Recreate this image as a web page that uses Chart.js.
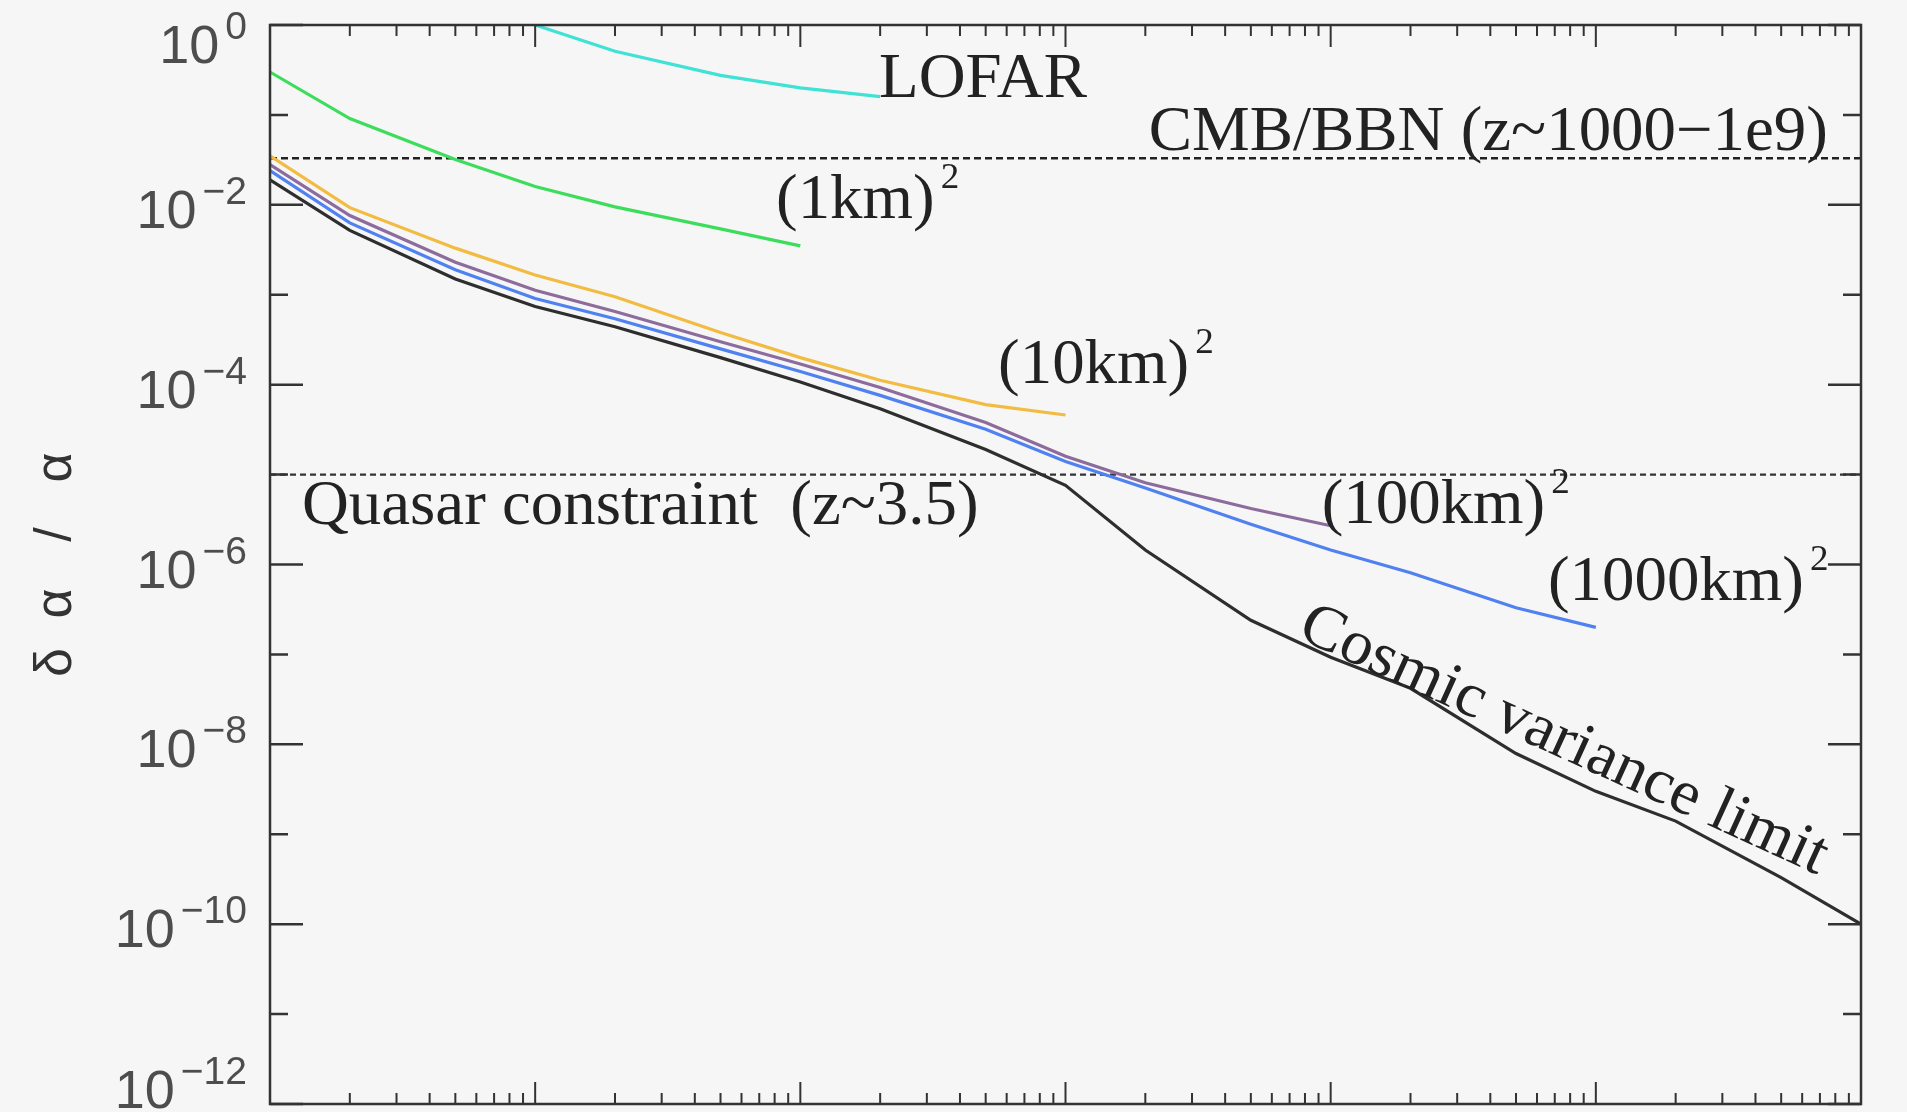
<!DOCTYPE html>
<html>
<head>
<meta charset="utf-8">
<title>δα/α sensitivity</title>
<script src="https://cdn.jsdelivr.net/npm/chart.js@4"></script>
<style>
  html, body { margin: 0; padding: 0; background: #f7f6f6; }
  #wrap { width: 1907px; height: 1112px; }
</style>
</head>
<body>
<div id="wrap"><canvas id="c" width="1907" height="1112"></canvas></div>
<script>
// Multipole grid shared by every curve
const ell = [1, 2, 5, 10, 20, 50, 100, 200, 500, 1e3, 2e3, 5e3, 1e4, 2e4, 5e4, 1e5, 2e5, 5e5, 1e6];

// Sensitivity on δα/α for each collecting area (curves stop where the array runs out)
const cosmicVariance = [1.9e-2, 5.2e-3, 1.5e-3, 7.4e-4, 4.4e-4, 2.0e-4, 1.07e-4, 5.4e-5, 1.9e-5, 7.6e-6,
                        1.45e-6, 2.4e-7, 9.3e-8, 4.2e-8, 7.9e-9, 3.0e-9, 1.4e-9, 3.3e-10, 1.0e-10];
const area1000km = [2.4e-2, 6.3e-3, 1.9e-3, 9.1e-4, 5.4e-4, 2.5e-4, 1.4e-4, 7.6e-5, 3.2e-5, 1.4e-5,
                    7.1e-6, 2.8e-6, 1.45e-6, 8.1e-7, 3.3e-7, 2.0e-7];
const area100km = [2.8e-2, 7.6e-3, 2.3e-3, 1.12e-3, 6.5e-4, 3.0e-4, 1.7e-4, 9.3e-5, 3.8e-5, 1.6e-5,
                   8.1e-6, 4.2e-6, 2.7e-6];
const area10km = [3.5e-2, 9.3e-3, 3.3e-3, 1.66e-3, 9.5e-4, 3.8e-4, 2.0e-4, 1.12e-4, 6.0e-5, 4.6e-5];
const area1km = [0.30, 0.091, 0.032, 0.016, 9.5e-3, 5.4e-3, 3.5e-3];
const lofar = [null, null, null, 1.0, 0.51, 0.275, 0.20, 0.16];

// Existing constraints
const cmbBbnLimit = 0.033;
const quasarLimit = 1e-5;

// Axis ranges
const ellRange = [1, 1e6];
const alphaRange = [1e-12, 1];
const alphaLabelExponents = [0, -2, -4, -6, -8, -10, -12];

function toPoints(values) {
  return values.map((v, i) => v == null ? null : { x: ell[i], y: v }).filter(Boolean);
}
function flatLine(v) {
  return [{ x: ellRange[0], y: v }, { x: ellRange[1], y: v }];
}

const SERIF = '"Liberation Serif", "Times New Roman", serif';
const SANS = '"Liberation Sans", Arial, sans-serif';

// Curve labels, placed in data coordinates (left end of the baseline)
const curveLabels = [
  { text: 'LOFAR', x: 198, y: 0.158 },
  { text: '(1km)', sup: '2', x: 81, y: 7.1e-3 },
  { text: '(10km)', sup: '2', x: 557, y: 1.05e-4 },
  { text: '(100km)', sup: '2', x: 9250, y: 2.9e-6 },
  { text: '(1000km)', sup: '2', x: 6.6e4, y: 4.0e-7 },
  { text: 'Quasar constraint  (z~3.5)', x: 1.32, y: 2.8e-6 },
  { text: 'CMB/BBN (z~1000\u22121e9)', x: 7.5e5, y: 0.0407, align: 'right' },
  { text: 'Cosmic variance limit', x: 7400, y: 1.55e-7, angle: 24.5 }
];

const decor = {
  id: 'decor',
  beforeDraw(chart) {
    const ctx = chart.ctx;
    ctx.save();
    ctx.fillStyle = '#f7f6f6';
    ctx.fillRect(0, 0, chart.width, chart.height);
    ctx.restore();
  },
  afterDatasetsDraw(chart) {
    const ctx = chart.ctx;
    const xs = chart.scales.x, ys = chart.scales.y;
    const { left, right, top, bottom } = chart.chartArea;
    ctx.save();

    // frame
    ctx.strokeStyle = '#333';
    ctx.lineWidth = 2.5;
    ctx.strokeRect(left, top, right - left, bottom - top);

    // y ticks on both sides, pointing inward
    ctx.lineWidth = 2.5;
    for (let e = 0; e >= -12; e--) {
      const y = ys.getPixelForValue(Math.pow(10, e));
      const len = (e % 2 === 0) ? 33 : 18;
      ctx.beginPath();
      ctx.moveTo(left, y); ctx.lineTo(left + len, y);
      ctx.moveTo(right, y); ctx.lineTo(right - len, y);
      ctx.stroke();
    }
    // x ticks on top and bottom, pointing inward
    ctx.lineWidth = 2;
    for (let k = 0; k <= 6; k++) {
      for (let m = 1; m <= 9; m++) {
        const v = m * Math.pow(10, k);
        if (v > ellRange[1]) break;
        const x = xs.getPixelForValue(v);
        const len = m === 1 ? 22 : 11;
        ctx.beginPath();
        ctx.moveTo(x, top); ctx.lineTo(x, top + len);
        ctx.moveTo(x, bottom); ctx.lineTo(x, bottom - len);
        ctx.stroke();
      }
    }

    // y tick labels: 10 with a superscript exponent
    ctx.fillStyle = '#4d4d4d';
    ctx.textBaseline = 'alphabetic';
    const labelRight = left - 23;
    alphaLabelExponents.forEach(e => {
      const y = ys.getPixelForValue(Math.pow(10, e));
      const base = Math.min(Math.max(y + 23, 63), chart.height - 4);
      const sup = e === 0 ? '0' : '\u2212' + Math.abs(e);
      ctx.font = '39px ' + SANS;
      const supW = ctx.measureText(sup).width;
      ctx.textAlign = 'left';
      ctx.fillText(sup, labelRight - supW, base - 24);
      ctx.font = '54px ' + SANS;
      ctx.textAlign = 'right';
      ctx.fillText('10', labelRight - supW - 6, base);
    });

    // y axis title, rotated, glyphs spread along the axis
    const midY = (top + bottom) / 2;
    ctx.save();
    ctx.translate(57, midY);
    ctx.rotate(-Math.PI / 2);
    ctx.font = '52px ' + SANS;
    ctx.fillStyle = '#333';
    ctx.textAlign = 'center';
    ctx.textBaseline = 'middle';
    [['\u03b4', -98], ['\u03b1', -39], ['/', 30], ['\u03b1', 97]].forEach(([g, off]) => {
      ctx.fillText(g, off, 0);
    });
    ctx.restore();

    // curve and constraint labels (slightly widened serif)
    ctx.fillStyle = '#222';
    ctx.textBaseline = 'alphabetic';
    curveLabels.forEach(l => {
      const px = xs.getPixelForValue(l.x);
      const py = ys.getPixelForValue(l.y);
      ctx.save();
      ctx.translate(px, py);
      if (l.angle) ctx.rotate(l.angle * Math.PI / 180);
      ctx.scale(1.03, 1);
      ctx.font = '63px ' + SERIF;
      ctx.textAlign = l.align || 'left';
      ctx.fillText(l.text, 0, 0);
      if (l.sup) {
        const w = ctx.measureText(l.text).width;
        ctx.font = '36px ' + SERIF;
        ctx.textAlign = 'left';
        ctx.fillText(l.sup, w + 6, -30);
      }
      ctx.restore();
    });

    ctx.restore();
  }
};

const lineStyle = { borderWidth: 3.2, pointRadius: 0, tension: 0, fill: false };

new Chart(document.getElementById('c'), {
  type: 'line',
  data: {
    datasets: [
      { label: 'Cosmic variance limit', data: toPoints(cosmicVariance), borderColor: '#2e2e2e', ...lineStyle },
      { label: '(1000km)^2', data: toPoints(area1000km), borderColor: '#4f82f0', ...lineStyle },
      { label: '(100km)^2', data: toPoints(area100km), borderColor: '#8c6c9c', ...lineStyle },
      { label: '(10km)^2', data: toPoints(area10km), borderColor: '#f2bb42', ...lineStyle },
      { label: '(1km)^2', data: toPoints(area1km), borderColor: '#3ddd5c', ...lineStyle },
      { label: 'LOFAR', data: toPoints(lofar), borderColor: '#3fe2d4', ...lineStyle },
      { label: 'CMB/BBN', data: flatLine(cmbBbnLimit), borderColor: '#222', borderDash: [7, 4], ...lineStyle, borderWidth: 2.4 },
      { label: 'Quasar', data: flatLine(quasarLimit), borderColor: '#333', borderDash: [6, 4], ...lineStyle, borderWidth: 2.2 }
    ]
  },
  options: {
    responsive: false,
    animation: false,
    devicePixelRatio: 1,
    layout: { padding: { left: 270, right: 46, top: 25, bottom: 8 } },
    scales: {
      x: { type: 'logarithmic', min: ellRange[0], max: ellRange[1], display: false },
      y: { type: 'logarithmic', min: alphaRange[0], max: alphaRange[1], display: false }
    },
    plugins: { legend: { display: false }, tooltip: { enabled: false } }
  },
  plugins: [decor]
});
</script>
</body>
</html>
